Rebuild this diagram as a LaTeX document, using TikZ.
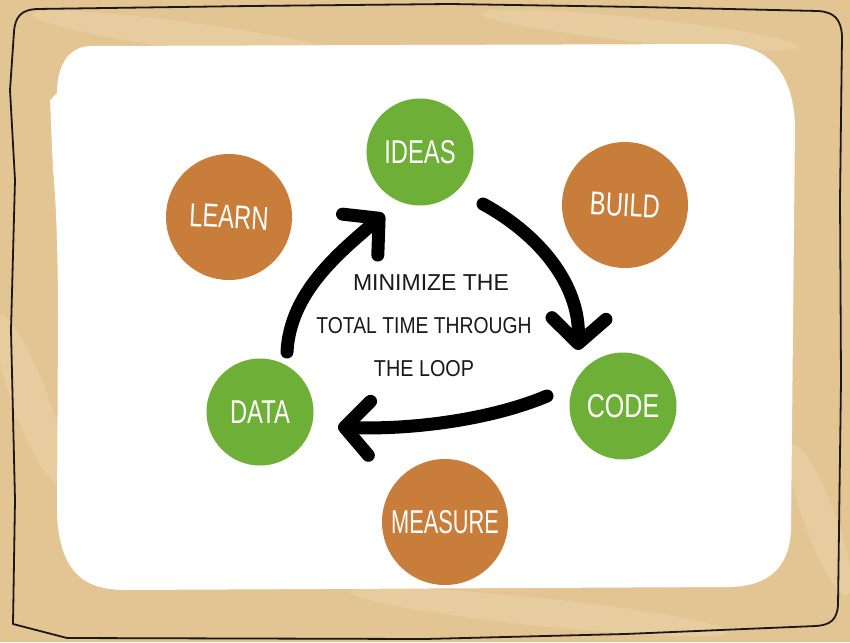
\documentclass[tikz,border=0pt]{standalone}
\usepackage{fontspec}
\setmainfont{Liberation Sans}
\usetikzlibrary{arrows.meta,calc}
\definecolor{wood}{RGB}{227,196,147}
\definecolor{woodlight}{RGB}{240,220,184}
\definecolor{leafgreen}{RGB}{110,175,56}
\definecolor{clay}{RGB}{201,125,59}
\definecolor{ink}{RGB}{25,25,25}
\tikzset{
  ball/.style={circle, inner sep=0pt, text=white, font=\fontsize{33}{33}\selectfont},
  greenball/.style={ball, fill=leafgreen, minimum size=107pt},
  orangeball/.style={ball, fill=clay, minimum size=126pt},
  looparrow/.style={draw=black, line width=13pt, line cap=round, line join=round,
    -{Straight Barb[length=25pt, width=54pt, round]}},
  frameline/.style={draw=ink, line width=1.8pt, line join=round},
  grain/.style={fill=woodlight, opacity=0.35}
}
\newcommand{\sq}[2]{\scalebox{#1}[1]{#2}}
\begin{document}
\begin{tikzpicture}[x=1pt, y=-1pt]
\useasboundingbox (0,0) rectangle (850,642);
% wood background
\fill[wood] (0,0) rectangle (850,642);
\begin{scope}
\clip (0,0) rectangle (850,642);
\fill[grain] (200,38) ellipse [x radius=170, y radius=14, rotate=-8];
\fill[grain] (640,30) ellipse [x radius=160, y radius=12, rotate=-6];
\fill[grain] (540,612) ellipse [x radius=190, y radius=14, rotate=-6];
\fill[grain] (30,400) ellipse [x radius=18, y radius=90, rotate=20];
\fill[grain] (820,520) ellipse [x radius=16, y radius=80, rotate=20];
\end{scope}
% hand-drawn frame
\draw[frameline] (14,32) .. controls (15,16) and (22,10) .. (36,9)
  -- (250,6) -- (450,4) -- (640,7) -- (818,11)
  .. controls (834,12) and (841,19) .. (842,36)
  -- (840,200) -- (841,380) -- (838,605)
  .. controls (837,620) and (830,625) .. (816,626)
  -- (625,634) -- (425,639) -- (67,638) -- (13,624)
  -- (15,500) -- (11,330) -- (15,180) -- (10,90) -- cycle;
% white board
\fill[white] (90,46) -- (720,44) .. controls (772,44) and (793,76) .. (795,125)
  -- (793,330) -- (791,530) .. controls (789,571) and (765,586) .. (730,587)
  -- (125,590) .. controls (80,590) and (60,568) .. (57,515)
  -- (58,320) .. controls (58,250) and (56,200) .. (53,170)
  -- (50,100) -- (57,93) .. controls (57,66) and (68,47) .. (90,46) -- cycle;
% circles
\node[greenball]  (ideas)   at (420,152) {\sq{0.72}{IDEAS}};
\node[greenball]  (code)    at (623,406) {\sq{0.76}{CODE}};
\node[greenball]  (data)    at (260,412) {\sq{0.72}{DATA}};
\node[orangeball] (learn)   at (229,217) {\rotatebox{-3}{\sq{0.72}{LEARN}}};
\node[orangeball] (build)   at (625,205) {\rotatebox{-3}{\sq{0.72}{BUILD}}};
\node[orangeball] (measure) at (445,522) {\sq{0.66}{MEASURE}};
% centre text
\node[text=ink, align=center, font=\fontsize{23}{43}\selectfont] (goal) at (424,326)
  {\hspace*{14pt}\sq{1.0}{MINIMIZE THE}\\ \sq{0.84}{TOTAL TIME THROUGH}\\ \sq{0.86}{THE LOOP}};
% loop arrows
\draw[looparrow] ($(data)+(27,-60)$) .. controls ($(data)+(30,-120)$) and ($(ideas)+(-80,100)$) .. ($(ideas)+(-36,62)$);
\draw[looparrow] ($(ideas)+(63,52)$) .. controls ($(ideas)+(120,83)$) and ($(code)+(-43,-121)$) .. ($(code)+(-45,-56)$);
\draw[looparrow] ($(code)+(-76,-10)$) .. controls ($(code)+(-133,14)$) and ($(data)+(150,18)$) .. ($(data)+(78,15)$);
\end{tikzpicture}
\end{document}
